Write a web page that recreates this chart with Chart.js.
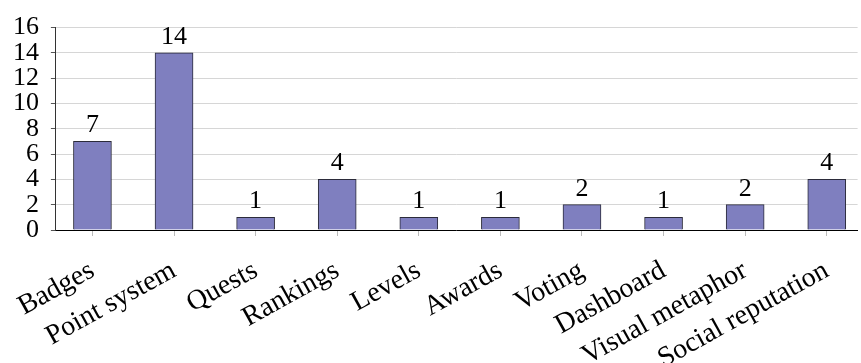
<!DOCTYPE html>
<html>
<head>
<meta charset="utf-8">
<script src="https://cdn.jsdelivr.net/npm/chart.js@4/dist/chart.umd.min.js"></script>
<style>
  html, body { margin: 0; padding: 0; background: #fff; }
  #wrap { width: 861px; height: 363px; }
</style>
</head>
<body>
<div id="wrap"><canvas id="chart"></canvas></div>
<script>
const categories = ['Badges', 'Point system', 'Quests', 'Rankings', 'Levels',
    'Awards', 'Voting', 'Dashboard', 'Visual metaphor', 'Social reputation'];
const counts = [7, 14, 1, 4, 1, 1, 2, 1, 2, 4];
const yTicks = [0, 2, 4, 6, 8, 10, 12, 14, 16];

const serif = "'Liberation Serif', 'DejaVu Serif', serif";

// numbers above each bar
const valueLabels = {
    id: 'valueLabels',
    afterDatasetsDraw(chart) {
        const ctx = chart.ctx;
        const meta = chart.getDatasetMeta(0);
        ctx.save();
        ctx.font = `26px ${serif}`;
        ctx.fillStyle = '#000';
        ctx.textAlign = 'center';
        ctx.textBaseline = 'alphabetic';
        meta.data.forEach((bar, i) => {
            ctx.fillText(String(counts[i]), bar.x, bar.y - 9);
        });
        ctx.restore();
    }
};

new Chart(document.getElementById('chart'), {
    type: 'bar',
    data: {
        datasets: [{
            data: counts.map((v, i) => ({ x: i, y: v })),
            backgroundColor: '#7f7fbf',
            borderColor: '#2b2b3a',
            borderWidth: 1,
            barThickness: 38
        }]
    },
    options: {
        responsive: true,
        maintainAspectRatio: false,
        animation: false,
        layout: { padding: { top: 24, right: 0, left: 0, bottom: 0 } },
        plugins: { legend: { display: false }, tooltip: { enabled: false } },
        scales: {
            x: {
                type: 'linear',
                offset: false,
                min: -0.448,
                max: 9.378,
                afterFit: s => { s.height = 133; },
                afterBuildTicks: s => { s.ticks = categories.map((c, i) => ({ value: i })); },
                ticks: {
                    autoSkip: false,
                    minRotation: 29,
                    maxRotation: 29,
                    padding: 18,
                    color: '#000',
                    font: { family: serif, size: 28 },
                    callback: v => categories[v]
                },
                grid: { offset: false, drawOnChartArea: false, drawTicks: true, tickLength: 6, tickColor: '#bbbbbb' },
                border: { color: '#000', width: 1 }
            },
            y: {
                min: 0,
                max: 16,
                afterFit: s => { s.width = 55; },
                afterBuildTicks: s => { s.ticks = yTicks.map(v => ({ value: v })); },
                ticks: {
                    autoSkip: false,
                    padding: 12,
                    color: '#000',
                    font: { family: serif, size: 26 }
                },
                grid: { color: '#d6d6d6', tickLength: 5, tickColor: '#555' },
                border: { color: '#333', width: 1 }
            }
        }
    },
    plugins: [valueLabels]
});
</script>
</body>
</html>
